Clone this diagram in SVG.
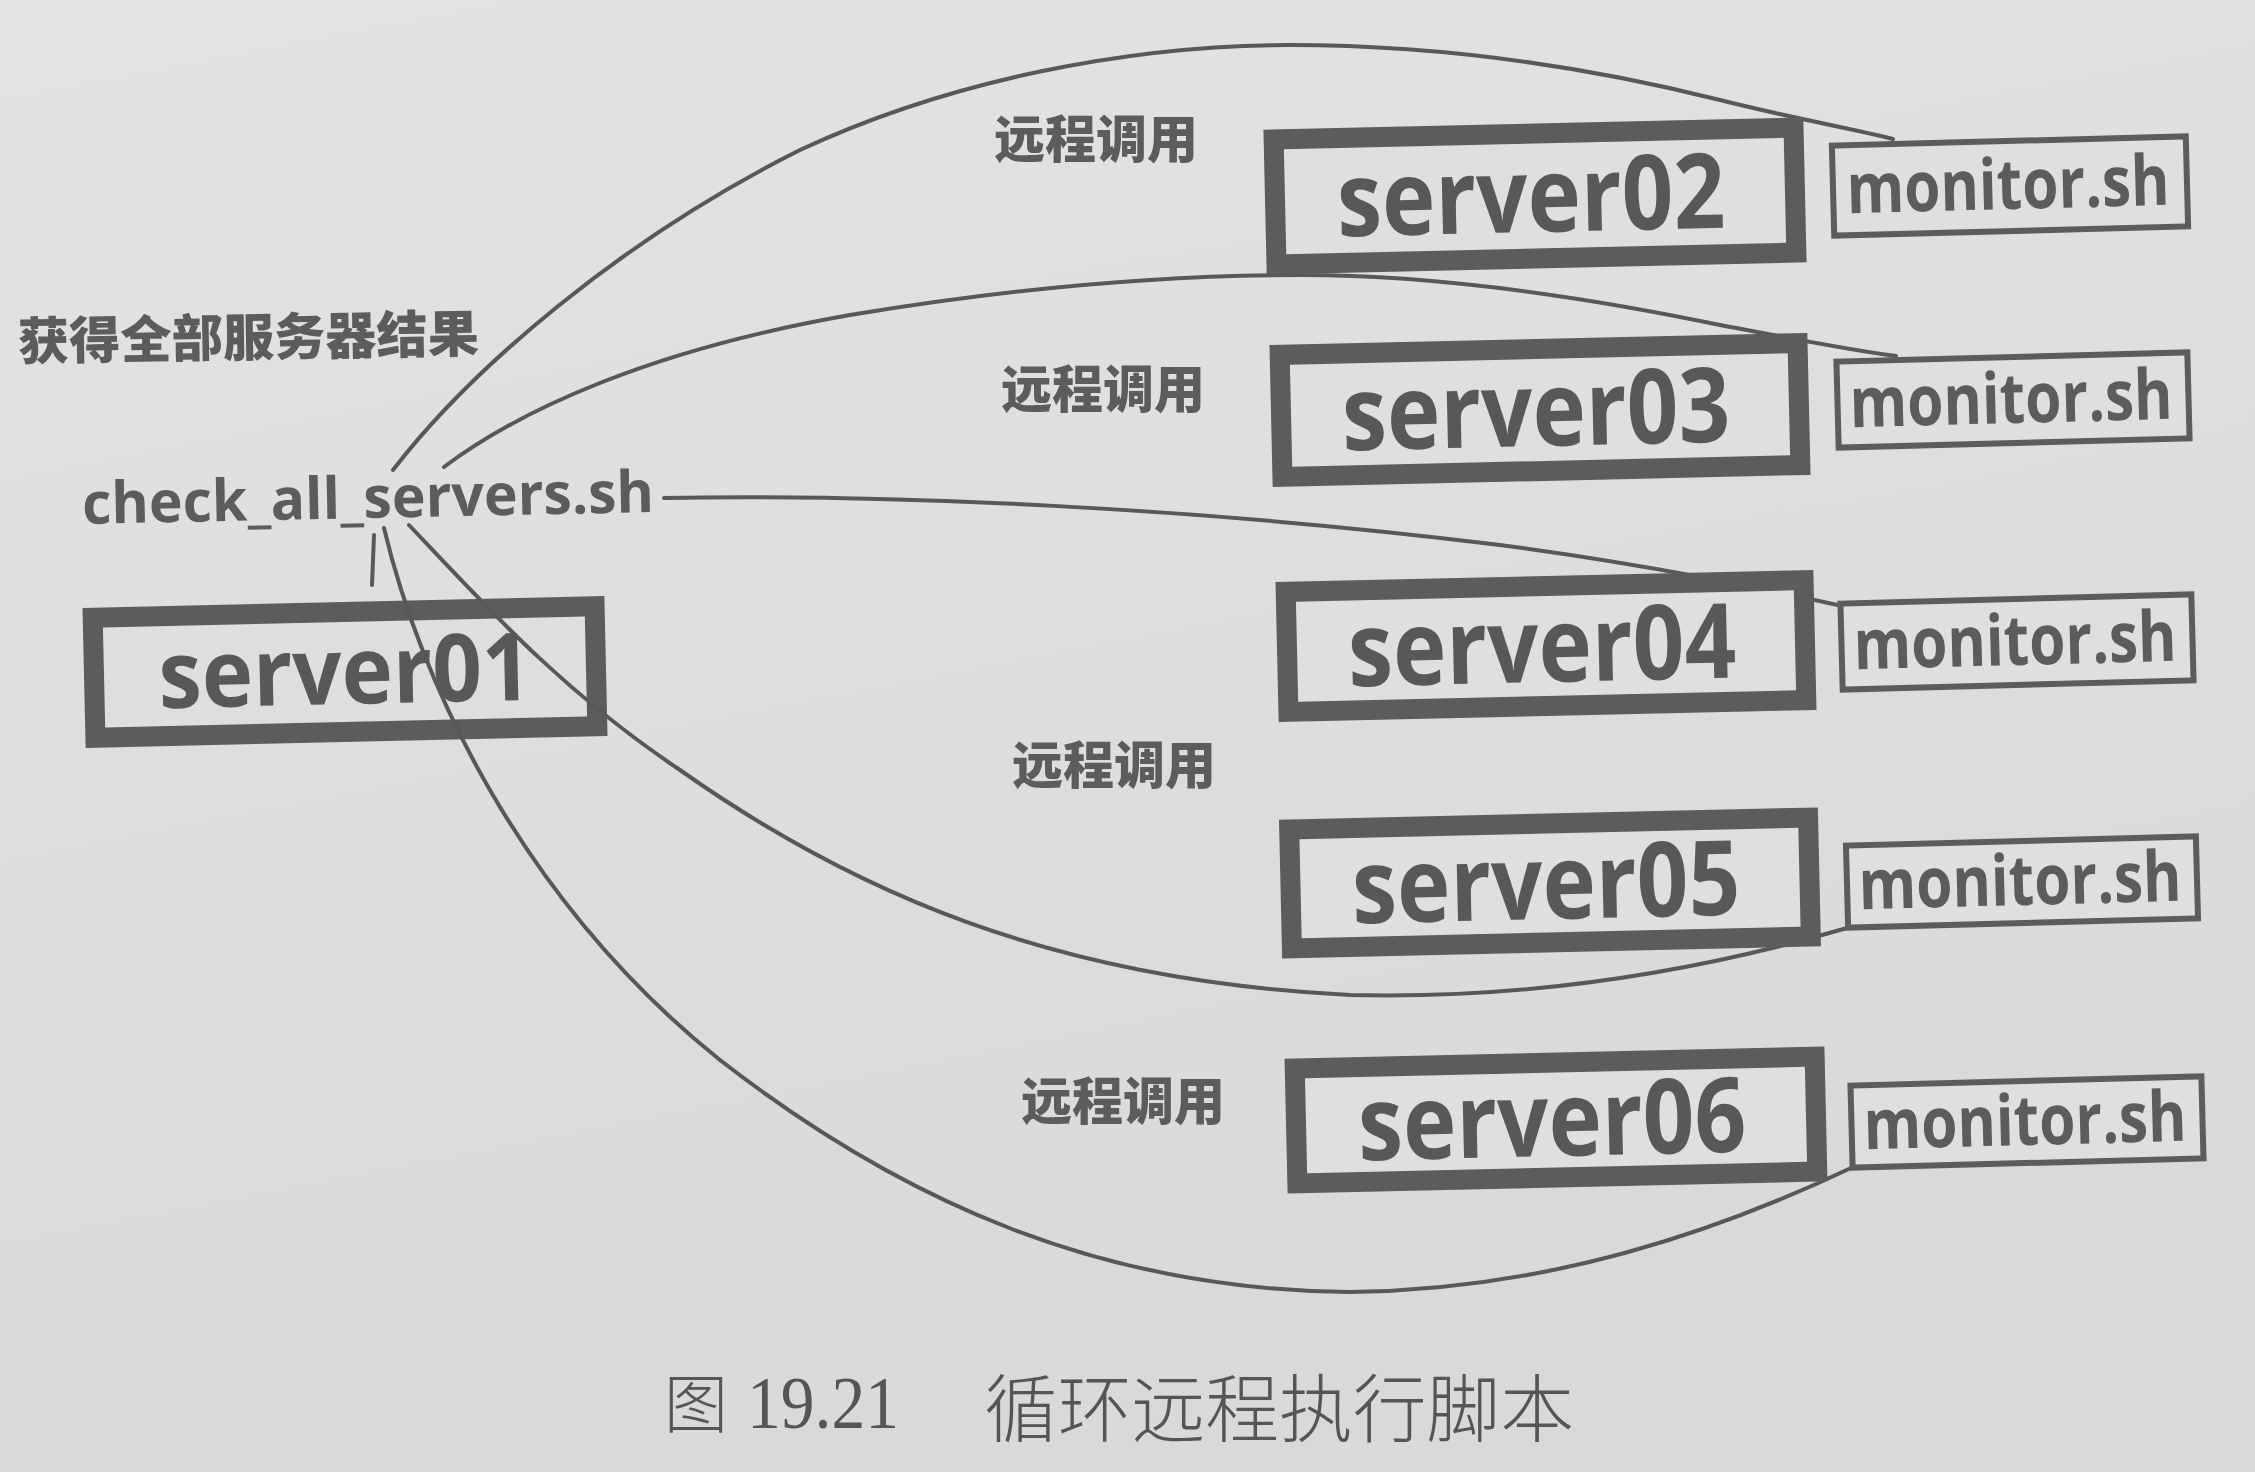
<svg xmlns="http://www.w3.org/2000/svg" width="2255" height="1472" viewBox="0 0 2255 1472">
  <defs>
    <linearGradient id="bg" x1="0" y1="0" x2="0.3" y2="1">
      <stop offset="0" stop-color="#e3e3e1"/>
      <stop offset="1" stop-color="#d9d9d7"/>
    </linearGradient>
  </defs>
  <style>
    .conn { fill: none; stroke: #585858; stroke-width: 4; stroke-linecap: round; }
    .srv { fill: #dfdfdd; stroke: #5c5c5c; stroke-width: 20; }
    .srv01 { fill: none; stroke: #5c5c5c; stroke-width: 20; }
    .mon { fill: #dfdfdd; stroke: #5c5c5c; stroke-width: 6; }
    .srvt { font-family: "Open Sans", "Liberation Sans", sans-serif; font-weight: 700; fill: #585858; text-anchor: middle; }
    .mont { font-family: "Open Sans", "Liberation Sans", sans-serif; font-weight: 700; fill: #5c5c5c; text-anchor: middle; font-size: 70px; }
    .cjkb { font-family: "Noto Sans CJK SC", sans-serif; font-weight: 900; fill: #5c5c5c; }
    .script { font-family: "Open Sans", "Liberation Sans", sans-serif; font-weight: 700; fill: #5c5c5c; font-size: 58px; }
    .cap { font-family: "Noto Sans CJK SC", sans-serif; font-weight: 300; fill: #555555; }
    .capn { font-family: "Liberation Serif", serif; fill: #555555; }
  </style>
  <rect x="0" y="0" width="2255" height="1472" fill="url(#bg)"/>

  <g id="server01">
    <g transform="rotate(-1.3 345 672)">
      <rect class="srv01" x="94" y="612" width="502" height="120"/>
      <text class="srvt" x="345" y="704" font-size="94" textLength="373" lengthAdjust="spacingAndGlyphs">server01</text>
    </g>
  </g>

  <g id="connectors">
    <path class="conn" d="M393,470 C470,370 620,240 800,150 C950,80 1130,45 1290,45 C1450,45 1600,70 1720,100 C1800,120 1850,128 1893,139"/>
    <path class="conn" d="M444,467 C520,410 650,350 850,315 C1000,290 1150,275 1300,275 C1450,275 1600,300 1720,325 C1800,340 1850,350 1896,356"/>
    <path class="conn" d="M664,498 C900,494 1200,508 1500,545 C1650,565 1760,588 1842,606"/>
    <path class="conn" d="M409,525 C480,600 560,690 680,770 C850,890 1050,980 1350,995 C1550,1000 1720,965 1847,928"/>
    <path class="conn" d="M384,528 C420,680 520,900 720,1060 C900,1200 1100,1290 1350,1292 C1550,1290 1720,1230 1851,1168"/>
    <path class="conn" d="M374,535 L372,585"/>
  </g>

  <g id="server02">
    <g transform="rotate(-1.3 1535 196)">
      <rect class="srv" x="1275" y="133.5" width="520" height="125"/>
      <text class="srvt" x="1531" y="232" font-size="104" textLength="388" lengthAdjust="spacingAndGlyphs">server02</text>
    </g>
  </g>
  <g id="server03">
    <g transform="rotate(-1.3 1540 410)">
      <rect class="srv" x="1281" y="349" width="518" height="122"/>
      <text class="srvt" x="1536" y="446" font-size="104" textLength="388" lengthAdjust="spacingAndGlyphs">server03</text>
    </g>
  </g>
  <g id="server04">
    <g transform="rotate(-1.3 1546 646)">
      <rect class="srv" x="1287" y="586" width="518" height="120"/>
      <text class="srvt" x="1542" y="682" font-size="104" textLength="388" lengthAdjust="spacingAndGlyphs">server04</text>
    </g>
  </g>
  <g id="server05">
    <g transform="rotate(-1.3 1550 883)">
      <rect class="srv" x="1290.5" y="823.5" width="519" height="119"/>
      <text class="srvt" x="1546" y="919" font-size="104" textLength="388" lengthAdjust="spacingAndGlyphs">server05</text>
    </g>
  </g>
  <g id="server06">
    <g transform="rotate(-1.3 1556 1120)">
      <rect class="srv" x="1296" y="1062.5" width="520" height="115"/>
      <text class="srvt" x="1552" y="1156" font-size="104" textLength="388" lengthAdjust="spacingAndGlyphs">server06</text>
    </g>
  </g>

  <g id="monitor02">
    <g transform="rotate(-1.5 2010 186)">
      <rect class="mon" x="1833" y="141" width="354" height="90"/>
      <text class="mont" x="2008" y="209" textLength="323" lengthAdjust="spacingAndGlyphs">monitor.sh</text>
    </g>
  </g>
  <g id="monitor03">
    <g transform="rotate(-1.5 2013 400)">
      <rect class="mon" x="1837.5" y="357" width="351" height="86"/>
      <text class="mont" x="2011" y="423" textLength="323" lengthAdjust="spacingAndGlyphs">monitor.sh</text>
    </g>
  </g>
  <g id="monitor04">
    <g transform="rotate(-1.5 2017 642)">
      <rect class="mon" x="1841.5" y="599" width="351" height="86"/>
      <text class="mont" x="2015" y="665" textLength="323" lengthAdjust="spacingAndGlyphs">monitor.sh</text>
    </g>
  </g>
  <g id="monitor05">
    <g transform="rotate(-1.5 2022 882)">
      <rect class="mon" x="1847" y="841" width="350" height="82"/>
      <text class="mont" x="2020" y="905" textLength="323" lengthAdjust="spacingAndGlyphs">monitor.sh</text>
    </g>
  </g>
  <g id="monitor06">
    <g transform="rotate(-1.5 2027 1122)">
      <rect class="mon" x="1851.5" y="1081" width="351" height="82"/>
      <text class="mont" x="2025" y="1145" textLength="323" lengthAdjust="spacingAndGlyphs">monitor.sh</text>
    </g>
  </g>

  <g id="labels">
    <text class="cjkb" x="994" y="158" font-size="51" textLength="204" lengthAdjust="spacingAndGlyphs">远程调用</text>
    <text class="cjkb" x="1001" y="408" font-size="51" textLength="204" lengthAdjust="spacingAndGlyphs">远程调用</text>
    <text class="cjkb" x="1012" y="784" font-size="51" textLength="204" lengthAdjust="spacingAndGlyphs">远程调用</text>
    <text class="cjkb" x="1021" y="1120" font-size="51" textLength="204" lengthAdjust="spacingAndGlyphs">远程调用</text>
    <text class="cjkb" x="18" y="356" font-size="51" textLength="461" lengthAdjust="spacingAndGlyphs" transform="rotate(-1 248 340)">获得全部服务器结果</text>
    <text class="script" x="82" y="518" textLength="572" lengthAdjust="spacingAndGlyphs" transform="rotate(-1.2 368 500)">check_all_servers.sh</text>
  </g>

  <g id="caption">
    <text class="cap" x="664" y="1427" font-size="64">图</text>
    <text class="capn" x="747" y="1428" font-size="75" textLength="152" lengthAdjust="spacingAndGlyphs">19.21</text>
    <text class="cap" x="984" y="1436" font-size="74" textLength="590" lengthAdjust="spacingAndGlyphs">循环远程执行脚本</text>
  </g>
</svg>
